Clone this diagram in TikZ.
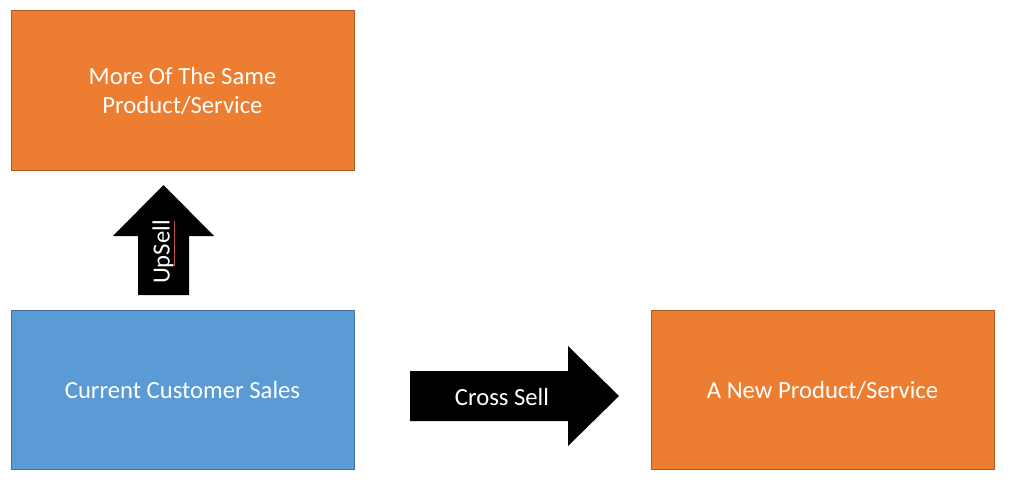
\documentclass[tikz,border=0pt]{standalone}
\usepackage{fontspec}
\setmainfont{Carlito}
\usetikzlibrary{positioning}

\definecolor{boxorange}{HTML}{ED7D31}
\definecolor{boxorangeline}{HTML}{AE5A21}
\definecolor{boxblue}{HTML}{5B9BD5}
\definecolor{boxblueline}{HTML}{41719C}
\definecolor{spellred}{HTML}{C0504D}

\tikzset{
    salesbox/.style={rectangle, fill=#1, draw=#1line, line width=0.75pt,
        minimum width=257.25pt, minimum height=119.25pt, inner sep=0pt,
        text=white, align=center, font=\fontsize{18.5}{21.75}\selectfont},
    blockarrow/.style={fill=black},
    arrowtext/.style={text=white, inner sep=0pt, font=\fontsize{18.5}{21.75}\selectfont}
}

\begin{document}
\begin{tikzpicture}[x=0.75pt, y=-0.75pt]
    \useasboundingbox (0,0) rectangle (1024,485);

    % Draw nodes
    \node[salesbox=boxorange] (same) at (182.5,90.5) {More Of The Same\\Product/Service};
    \node[salesbox=boxblue] (current) at (182.5,390) {Current Customer Sales};
    \node[salesbox=boxorange] (new) at (822.5,390) {A New Product/Service};

    % Draw block arrows
    \fill[blockarrow] (138,295) -- (138,236) -- (113,236) -- (163.5,185)
        -- (214,236) -- (189,236) -- (189,295) -- cycle;
    \fill[blockarrow] (410,371) -- (568,371) -- (568,346) -- (619,396)
        -- (568,446) -- (568,421) -- (410,421) -- cycle;

    % Labels
    \node[arrowtext, rotate=90] (upsell) at (163,252) {UpSell};
    \node[arrowtext] (crosssell) at (502,397) {Cross Sell};
    \draw[spellred, line width=0.6pt] (174,221) -- (174,266);
\end{tikzpicture}
\end{document}
